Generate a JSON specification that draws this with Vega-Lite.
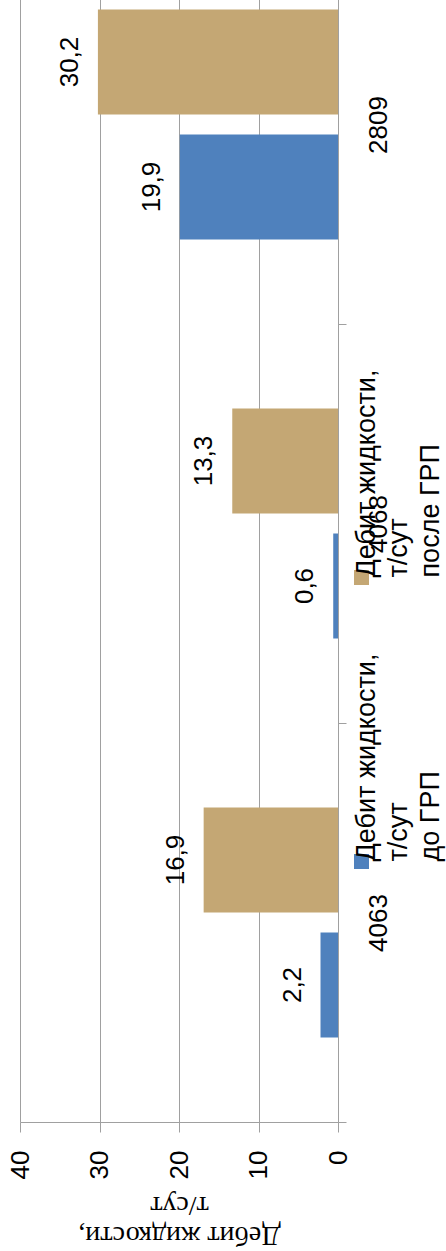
{
  "$schema": "https://vega.github.io/schema/vega-lite/v6.json",
  "width": 318,
  "height": 1197,
  "autosize": {"type": "none"},
  "padding": {"left": 20, "top": -75, "right": 108, "bottom": 129},
  "background": "white",
  "config": {
    "view": {"stroke": null},
    "font": "Liberation Sans",
    "locale": {"number": {"decimal": ",", "thousands": " ", "grouping": [3], "currency": ["", " ₽"]}}
  },
  "data": {
    "values": [
      {"well": "4063", "series": "до ГРП", "value": 2.2},
      {"well": "4063", "series": "после ГРП", "value": 16.9},
      {"well": "4068", "series": "до ГРП", "value": 0.6},
      {"well": "4068", "series": "после ГРП", "value": 13.3},
      {"well": "2809", "series": "до ГРП", "value": 19.9},
      {"well": "2809", "series": "после ГРП", "value": 30.2}
    ]
  },
  "encoding": {
    "y": {
      "field": "well",
      "type": "nominal",
      "sort": ["2809", "4068", "4063"],
      "scale": {"paddingInner": 0, "paddingOuter": 0},
      "axis": {
        "orient": "right",
        "title": null,
        "grid": false,
        "domainColor": "#A0A0A0",
        "tickColor": "#A0A0A0",
        "tickSize": 8,
        "tickBand": "extent",
        "labelAngle": 270,
        "labelAlign": "center",
        "labelBaseline": "top",
        "labelPadding": 19,
        "labelFontSize": 26,
        "labelColor": "black"
      }
    },
    "yOffset": {
      "field": "series",
      "type": "nominal",
      "sort": ["после ГРП", "до ГРП"],
      "scale": {"paddingInner": 0.16, "paddingOuter": 0.676}
    },
    "x": {
      "field": "value",
      "type": "quantitative",
      "scale": {"domain": [0, 40], "reverse": true, "nice": false},
      "axis": {
        "values": [0, 10, 20, 30, 40],
        "grid": true,
        "gridColor": "#A0A0A0",
        "domainColor": "#A0A0A0",
        "tickColor": "#A0A0A0",
        "tickSize": 10,
        "labelAngle": 270,
        "labelAlign": "right",
        "labelBaseline": "middle",
        "labelFontSize": 26,
        "labelColor": "black",
        "labelPadding": 18,
        "labelFlush": false,
        "labelOverlap": false,
        "title": ["Дебит жидкости,", "т/сут"],
        "titleFont": "Liberation Serif",
        "titleFontSize": 28,
        "titleFontWeight": "normal",
        "titleAngle": 180,
        "titleBaseline": "bottom",
        "titleAlign": "center",
        "titlePadding": 42,
        "titleColor": "black"
      }
    }
  },
  "layer": [
    {
      "mark": {"type": "bar"},
      "encoding": {
        "color": {
          "field": "series",
          "type": "nominal",
          "scale": {"domain": ["после ГРП", "до ГРП"], "range": ["#C4A774", "#4F81BD"]},
          "legend": {
            "orient": "none",
            "legendX": 328,
            "legendY": 639,
            "direction": "vertical",
            "title": null,
            "symbolType": "square",
            "symbolSize": 225,
            "symbolStrokeWidth": 0,
            "labelFontSize": 27,
            "labelColor": "black",
            "labelLimit": 0,
            "labelExpr": "['Дебит жидкости,', 'т/сут', datum.label]",
            "labelOffset": -21,
            "labelAlign": "left",
            "labelBaseline": "top",
            "rowPadding": 68,
            "encode": {"labels": {"update": {"angle": {"value": 270}, "lineHeight": {"value": 32}}}}
          }
        }
      }
    },
    {
      "mark": {"type": "text", "angle": 270, "dy": -28, "fontSize": 26, "color": "black"},
      "encoding": {
        "text": {"field": "value", "type": "quantitative", "format": ".1f"}
      }
    }
  ]
}
